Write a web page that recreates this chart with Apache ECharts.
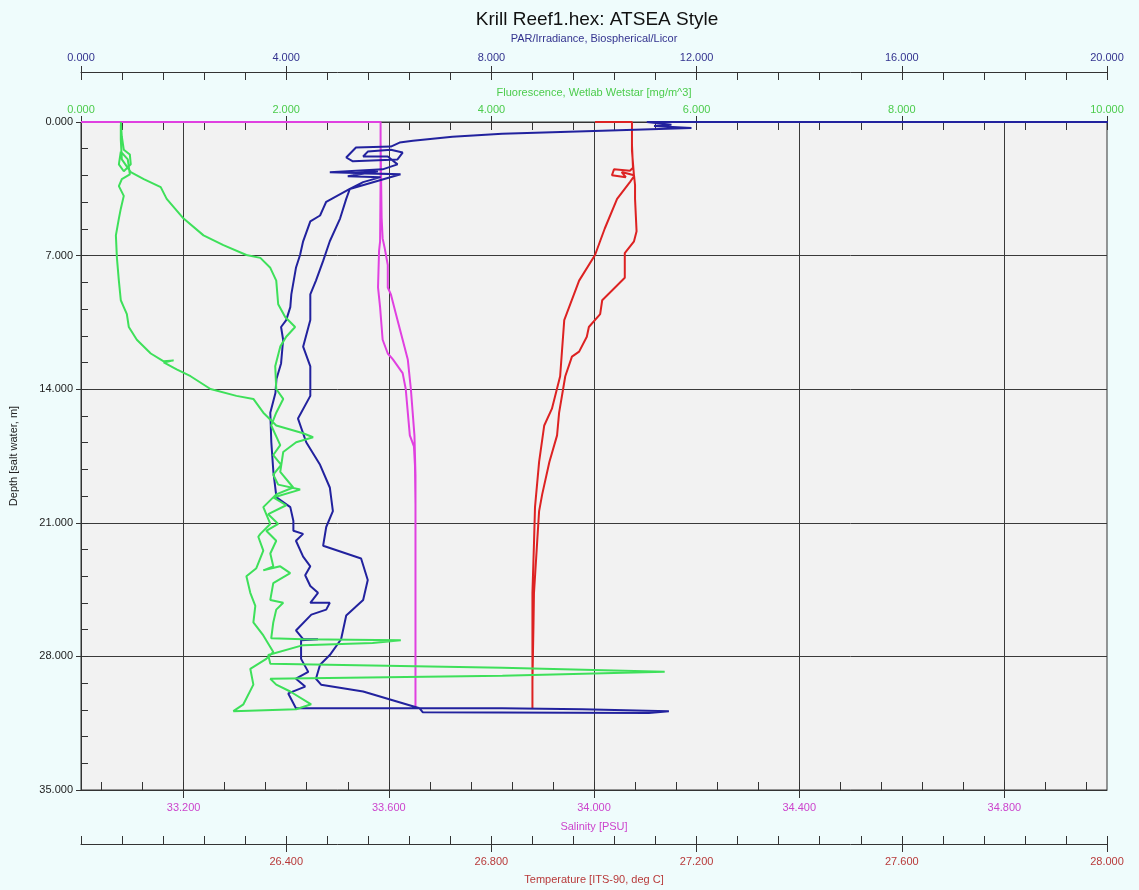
<!DOCTYPE html>
<html>
<head>
<meta charset="utf-8">
<script src="https://cdn.jsdelivr.net/npm/echarts@6/dist/echarts.min.js"></script>
<style>
html,body{margin:0;padding:0;background:#effcfc;}
#chart{width:1139px;height:890px;}
</style>
</head>
<body>
<div id="chart"></div>
<script>
// ---------- DATA ----------
const titleText = 'Krill Reef1.hex: ATSEA Style';
const depthTicks = [0, 7, 14, 21, 28, 35];
const parTicks = [0, 4, 8, 12, 16, 20];
const fluorTicks = [0, 2, 4, 6, 8, 10];
const salinityTicks = [33.2, 33.6, 34.0, 34.4, 34.8];
const temperatureTicks = [26.4, 26.8, 27.2, 27.6, 28.0];

// [value, depth m]
const salinityProfile = [
  [33.000,0],[33.584,0],[33.584,1.0],[33.585,3.0],[33.586,5.0],[33.588,6.1],[33.592,6.61],[33.598,7.49],
  [33.598,8.67],[33.604,9.03],[33.614,10.07],[33.627,11.41],[33.637,12.44],[33.643,13.99],[33.650,16.42],
  [33.652,18.48],[33.652,22.0],[33.652,26.0],[33.652,30.72],[33.652,26.0],[33.652,20.0],[33.651,18.0],
  [33.649,17.0],[33.641,16.42],[33.633,13.99],[33.627,13.16],[33.608,12.44],[33.598,12.13],[33.588,11.41],
  [33.583,9.70],[33.579,8.67],[33.581,6.76],[33.583,6.25],[33.584,3.0],[33.584,0]
];
const temperatureProfile = [
  [27.002,0],[27.074,0],[27.074,1.2],[27.076,2.4],[27.070,2.55],[27.039,2.48],[27.035,2.79],[27.062,2.89],
  [27.054,2.62],[27.078,2.79],[27.080,3.3],[27.080,4.03],[27.083,5.73],[27.078,6.25],[27.060,6.87],
  [27.060,8.16],[27.041,8.67],[27.016,9.34],[27.012,10.07],[26.990,10.74],[26.986,11.25],[26.971,12.03],
  [26.957,12.29],[26.944,13.32],[26.932,15.23],[26.928,16.42],[26.913,17.81],[26.899,19.51],[26.893,20.39],
  [26.889,22.09],[26.883,24.67],[26.882,26.38],[26.880,29.32],[26.880,30.72],
  [26.880,29.32],[26.880,24.67],[26.883,22.09],[26.885,20.18],[26.893,17.81],[26.903,15.90],[26.918,15.02],
  [26.934,13.32],[26.942,10.38],[26.971,8.31],[27.002,6.97],[27.021,5.58],[27.045,4.03],[27.070,3.15],
  [27.078,2.84],[27.074,1.5],[27.074,0]
];
const parProfile = [
  [22,0],[11.03,0],[11.51,0.15],[11.17,0.21],[11.90,0.31],[10.16,0.46],[8.21,0.62],[7.24,0.77],[6.47,0.98],
  [6.21,1.08],[6.04,1.29],[5.36,1.34],[5.17,1.86],[5.30,2.06],[6.17,1.96],[6.27,1.60],[6.04,1.45],[5.59,1.55],
  [5.50,1.81],[5.98,1.81],[6.17,2.22],[5.88,2.48],[4.85,2.63],[6.23,2.74],[5.30,2.68],[5.79,2.58],[5.20,2.84],
  [5.84,2.89],[5.50,3.15],[5.24,3.51],
  [4.78,4.18],[4.72,4.54],[4.66,4.90],[4.47,5.21],[4.33,6.25],[4.27,6.97],[4.19,7.64],[4.10,9.03],[4.08,9.70],
  [4.00,10.38],[3.90,10.74],[3.94,11.41],[3.90,12.65],[3.81,13.47],[3.79,14.20],[3.69,15.23],[3.71,16.78],
  [3.75,18.33],[3.81,19.67],[4.08,20.18],[4.14,20.91],[4.14,21.42],[4.33,21.58],[4.19,21.94],[4.33,22.77],
  [4.47,23.28],[4.37,23.75],[4.47,24.31],[4.62,24.67],[4.47,25.19],[4.85,25.19],[4.78,25.55],[4.49,25.81],
  [4.19,26.64],[4.33,27.10],[4.62,27.10],[4.29,27.15],[4.29,28.13],[4.43,28.81],[4.19,29.17],[4.37,29.58],
  [4.04,29.94],[4.19,30.72],
  [8.21,30.72],[9.77,30.77],[11.46,30.87],[11.07,30.97],[6.66,30.92],[6.60,30.72],
  [6.14,30.35],[5.50,29.84],[4.68,29.48],[4.58,29.17],[4.66,28.44],[4.85,27.93],[5.07,27.10],[5.17,25.86],
  [5.50,25.04],[5.59,24.00],[5.46,22.87],[4.72,22.20],[4.78,21.22],[4.91,20.39],[4.85,19.15],[4.66,17.96],
  [4.39,16.78],[4.23,15.54],[4.47,14.35],[4.47,13.99],[4.47,12.80],[4.33,11.77],[4.47,10.38],[4.47,9.03],
  [4.58,8.31],[4.72,7.28],[4.85,6.25],[5.05,5.06],[5.17,4.03],[5.24,3.51],[6.23,2.74]
];
const fluorescenceProfile = [
  [0.388,0],[0.398,0.77],[0.417,1.45],[0.476,1.70],[0.485,2.22],[0.417,2.58],[0.369,2.22],[0.388,1.55],
  [0.456,1.96],[0.476,2.74],[0.398,2.99],[0.369,3.36],[0.417,3.87],[0.388,4.54],[0.369,5.06],[0.340,5.94],
  [0.350,7.12],[0.369,8.31],[0.388,9.34],[0.417,9.70],[0.447,10.07],[0.466,10.74],[0.544,11.41],[0.680,12.13],
  [0.806,12.54],[0.903,12.49],[0.806,12.60],[0.932,12.96],[1.068,13.32],[1.262,13.99],[1.515,14.35],
  [1.680,14.51],[1.777,15.23],[1.903,15.90],[2.165,16.31],[2.262,16.52],[2.097,16.78],[1.971,17.29],
  [1.942,18.33],[2.068,19.15],[1.903,19.51],[1.777,20.18],[1.845,21.06],[1.748,21.58],[1.728,21.73],
  [1.777,22.46],[1.709,23.38],[1.612,23.80],[1.650,24.67],[1.699,25.35],[1.680,26.22],[1.777,26.90],
  [1.874,27.77],[1.806,28.13],[1.650,28.65],[1.680,29.48],[1.583,30.51],[1.485,30.87],
  [2.097,30.77],[2.243,30.51],[2.039,29.84],[1.903,29.48],[1.845,29.17],[4.107,29.01],[5.689,28.81],
  [4.107,28.60],[1.845,28.39],[1.825,27.93],[2.165,27.41],[2.842,27.30],[3.117,27.15],[2.165,27.10],
  [1.854,27.05],[1.874,26.22],[1.903,25.55],[1.971,25.19],[1.845,25.04],[1.874,24.16],[2.039,23.64],
  [1.942,23.28],[1.777,23.49],[1.874,23.28],[1.845,22.61],[1.903,21.94],[1.806,21.42],[1.922,21.06],
  [1.825,20.55],[2.000,20.08],[1.874,19.67],[2.136,19.26],[1.922,19.00],[1.874,18.48],[1.951,17.96],
  [1.874,17.45],[1.942,16.93],[1.854,15.90],[1.903,15.23],[1.971,14.51],[1.903,13.99],[1.893,12.80],
  [1.942,11.77],[2.000,11.25],[2.087,10.74],[1.990,10.22],[1.922,9.55],[1.903,8.31],[1.845,7.64],
  [1.748,7.12],[1.612,6.97],[1.388,6.45],[1.194,5.94],[1.000,5.06],[0.835,4.03],[0.777,3.41],[0.612,2.99],
  [0.485,2.63],[0.398,1.96],[0.388,0.93],[0.388,0.15]
];

// ---------- STYLE ----------
const FONT = '"Liberation Sans", Arial, sans-serif';
const AXIS_COLOR = '#333';
const C_PAR = '#22229e', C_PAR_TXT = '#33338f';
const C_FL = '#3ee05a', C_FL_TXT = '#4ccc4c';
const C_SAL = '#e040e0', C_SAL_TXT = '#cc44cc';
const C_TMP = '#dd2222', C_TMP_TXT = '#b83a3a';
const fmt3 = v => Number(v).toFixed(3);

// minor tick positions for salinity (every 0.08 starting 33.04)
const salMinor = [];
for (let k = 0; k < 25; k++) salMinor.push(+(33.04 + k * 0.08).toFixed(2));

function majorAxis(o) {
  return Object.assign({
    type: 'value', gridIndex: 0,
    axisLine: { show: true, onZero: false, lineStyle: { color: AXIS_COLOR, width: 1 } },
    axisTick: { show: true, inside: false, length: 6, lineStyle: { color: AXIS_COLOR } },
    splitLine: { show: false },
    nameLocation: 'middle'
  }, o);
}
function minorAxis(o) {
  return Object.assign({
    type: 'value', gridIndex: 0,
    axisLine: { show: false, onZero: false },
    axisTick: { show: true, inside: true, length: 8, lineStyle: { color: AXIS_COLOR } },
    axisLabel: { show: false },
    splitLine: { show: false }
  }, o);
}
const lbl = (color, margin) => ({ color, fontSize: 11, fontFamily: FONT, margin, formatter: fmt3 });
const nm = color => ({ color, fontSize: 11, fontFamily: FONT });

const PAR_OFFSET = 50, TMP_OFFSET = 54;

const option = {
  animation: false,
  backgroundColor: '#effcfc',
  title: {
    text: titleText, left: 592, top: 5, textAlign: 'center',
    textStyle: { fontFamily: FONT, fontSize: 19, fontWeight: 'normal', color: '#111' }
  },
  grid: {
    left: 77, top: 122, width: 1030, height: 678, show: true,
    backgroundColor: '#f2f2f2', borderColor: AXIS_COLOR, borderWidth: 1
  },
  xAxis: [
    // 0 PAR major
    majorAxis({ position: 'top', offset: PAR_OFFSET, min: parTicks[0], max: parTicks[parTicks.length - 1], interval: 4,
      axisLabel: lbl(C_PAR_TXT, 9), name: 'PAR/Irradiance, Biospherical/Licor', nameGap: 28, nameTextStyle: nm(C_PAR_TXT) }),
    // 1 PAR minor
    minorAxis({ position: 'top', offset: PAR_OFFSET, min: 0, max: 20, interval: 0.8 }),
    // 2 Fluor major
    majorAxis({ position: 'top', offset: 0, min: fluorTicks[0], max: fluorTicks[fluorTicks.length - 1], interval: 2,
      axisLabel: lbl(C_FL_TXT, 7), name: 'Fluorescence, Wetlab Wetstar [mg/m^3]', nameGap: 24, nameTextStyle: nm(C_FL_TXT) }),
    // 3 Fluor minor
    minorAxis({ position: 'top', offset: 0, min: 0, max: 10, interval: 0.4 }),
    // 4 Salinity major
    majorAxis({ position: 'bottom', offset: 0, min: 33, max: 35,
      axisTick: { show: true, inside: false, length: 8, customValues: salinityTicks, lineStyle: { color: AXIS_COLOR } },
      axisLabel: Object.assign(lbl(C_SAL_TXT, 12), { customValues: salinityTicks }),
      splitLine: { show: true, lineStyle: { color: '#3a3a3a', width: 1 } },
      name: 'Salinity [PSU]', nameGap: 31, nameTextStyle: nm(C_SAL_TXT) }),
    // 5 Salinity minor
    minorAxis({ position: 'bottom', offset: 0, min: 33, max: 35,
      axisTick: { show: true, inside: true, length: 8, customValues: salMinor, lineStyle: { color: AXIS_COLOR } } }),
    // 6 Temperature major
    majorAxis({ position: 'bottom', offset: TMP_OFFSET, min: 26, max: 28, interval: 0.4,
      axisTick: { show: true, inside: false, length: 8, lineStyle: { color: AXIS_COLOR } },
      axisLabel: Object.assign(lbl(C_TMP_TXT, 12), { showMinLabel: false, formatter: v => (Math.abs(v - 26) < 1e-6 ? '' : fmt3(v)) }),
      name: 'Temperature [ITS-90, deg C]', nameGap: 30, nameTextStyle: nm(C_TMP_TXT) }),
    // 7 Temperature minor
    minorAxis({ position: 'bottom', offset: TMP_OFFSET, min: 26, max: 28, interval: 0.08 })
  ],
  yAxis: [
    majorAxis({ position: 'left', inverse: true, min: depthTicks[0], max: depthTicks[depthTicks.length - 1], interval: 7,
      axisTick: { show: true, inside: false, length: 5, lineStyle: { color: AXIS_COLOR } },
      axisLabel: lbl('#222', 8),
      splitLine: { show: true, lineStyle: { color: '#3a3a3a', width: 1 } },
      name: 'Depth [salt water, m]', nameGap: 62, nameTextStyle: nm('#222') }),
    minorAxis({ position: 'left', inverse: true, min: 0, max: 35, interval: 1.4,
      axisTick: { show: true, inside: true, length: 7, lineStyle: { color: AXIS_COLOR } } })
  ],
  series: [
    { name: 'Salinity', type: 'line', xAxisIndex: 4, yAxisIndex: 0, data: salinityProfile,
      showSymbol: false, symbol: 'none', clip: true, lineStyle: { color: C_SAL, width: 2 }, z: 3 },
    { name: 'Temperature', type: 'line', xAxisIndex: 6, yAxisIndex: 0, data: temperatureProfile,
      showSymbol: false, symbol: 'none', clip: true, lineStyle: { color: C_TMP, width: 2 }, z: 4 },
    { name: 'PAR', type: 'line', xAxisIndex: 0, yAxisIndex: 0, data: parProfile,
      showSymbol: false, symbol: 'none', clip: true, lineStyle: { color: C_PAR, width: 2 }, z: 5 },
    { name: 'Fluorescence', type: 'line', xAxisIndex: 2, yAxisIndex: 0, data: fluorescenceProfile,
      showSymbol: false, symbol: 'none', clip: true, lineStyle: { color: C_FL, width: 2 }, z: 6 }
  ]
};

const chart = echarts.init(document.getElementById('chart'), null, { renderer: 'canvas' });
chart.setOption(option);
</script>
</body>
</html>
